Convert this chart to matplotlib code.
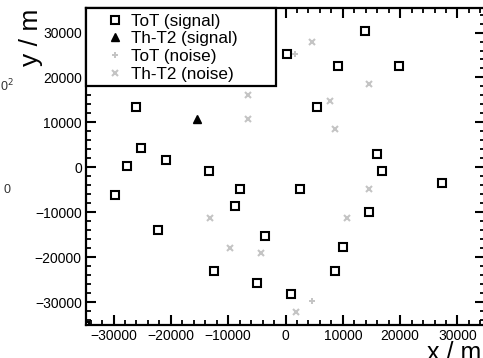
import matplotlib
matplotlib.use("Agg")
import matplotlib.pyplot as plt
from matplotlib.patches import Rectangle
from matplotlib.ticker import MultipleLocator

plt.rcParams['font.family'] = ['Liberation Sans', 'DejaVu Sans']

# signal positions (m)
tot_sig_x = [-26000, -25200, -20800, -27600, -13300, -8000, -29800, -8800, -22300, -3500,
             -12500, -5000, 13900, 200, 9200, 19800, 5500, 15900, 16800, 27300,
             2600, 14500, 10000, 8600, 1000, -35000]
tot_sig_y = [13500, 4300, 1700, 300, -900, -4800, -6200, -8600, -13900, -15200,
             -23000, -25700, 30400, 25200, 22600, 22600, 13500, 3000, -900, -3500,
             -4900, -10000, -17700, -23000, -28200, -35300]
tht2_sig_x = [-15500]
tht2_sig_y = [10700]

# noise positions (m)
tot_noise_x = [1700, 4700]
tot_noise_y = [25200, -29700]
tht2_noise_x = [-6500, -6500, -13200, -9600, -4300, 4700, 14500, 7700, 8600, 14600, 10800, 1800]
tht2_noise_y = [16100, 10800, -11300, -17900, -19100, 27800, 18600, 14800, 8500, -4900, -11300, -32200]

grey = '#c4c4c4'

fig = plt.figure(figsize=(4.83, 3.58), dpi=100)
ax = fig.add_axes([86/483, (358-324.7)/358, (485-86)/483, 316.9/358])

ax.plot(tot_sig_x, tot_sig_y, ls='none', marker='s', ms=5.6, mfc='none', mec='black', mew=1.5,
        label='ToT (signal)')
ax.plot(tht2_sig_x, tht2_sig_y, ls='none', marker='^', ms=6, color='black',
        label='Th-T2 (signal)')
ax.plot(tot_noise_x, tot_noise_y, ls='none', marker='+', ms=5, color=grey, mew=1.4,
        label='ToT (noise)')
ax.plot(tht2_noise_x, tht2_noise_y, ls='none', marker='x', ms=5, color=grey, mew=1.5,
        label='Th-T2 (noise)')

ax.set_xlim(-34800, 34800)
ax.set_ylim(-35000, 35500)
ax.xaxis.set_major_locator(MultipleLocator(10000))
ax.xaxis.set_minor_locator(MultipleLocator(2000))
ax.yaxis.set_major_locator(MultipleLocator(10000))
ax.yaxis.set_minor_locator(MultipleLocator(2000))
ax.tick_params(which='both', direction='in', top=True, right=True, labelsize=10, pad=3)
ax.tick_params(which='major', length=7.5, width=1.5)
ax.tick_params(which='minor', length=3.8, width=1.3)
for s in ax.spines.values():
    s.set_linewidth(1.6)

# legend box
ax.add_patch(Rectangle((0, 0.753), 0.477, 0.247, transform=ax.transAxes, facecolor='white',
                       edgecolor='black', lw=1.6, zorder=5, clip_on=False))
leg = ax.legend(loc='upper left', bbox_to_anchor=((104.3-86)/399, 1 - 4/317), frameon=False,
                fontsize=12.3, handlelength=1.0, handletextpad=0.45, borderpad=0.1,
                borderaxespad=0, labelspacing=0.16, markerscale=1.0)
leg.set_zorder(6)

fig.text(427/483, -1.5/358, 'x / m', fontsize=18, ha='left', va='baseline')
fig.text(31/483, 1 - 9/358, 'y / m', fontsize=19, rotation=90, ha='center', va='top')

# fragments of the neighbouring panel
fig.text(0.0, 1 - 86/358, '0$^2$', fontsize=9, color='#333333', ha='left', va='center')
fig.text(3/483, 1 - 190/358, '0', fontsize=9, color='#333333', ha='left', va='center')

fig.savefig('out.png', dpi=100)
